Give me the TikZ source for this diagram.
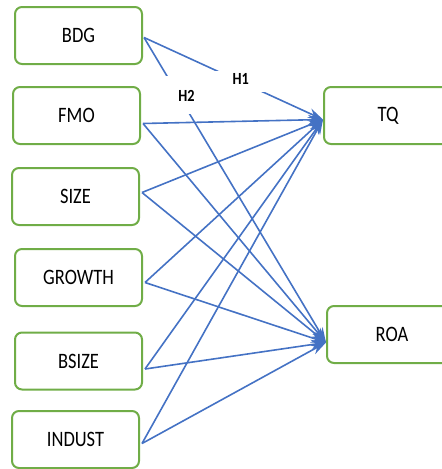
\documentclass[tikz,border=0pt]{standalone}
\usepackage{fontspec}
\setmainfont{Carlito}
\newfontfamily\boxfont[FakeStretch=0.84]{Carlito}
\usetikzlibrary{arrows.meta}
\definecolor{boxgreen}{RGB}{112,173,71}
\definecolor{linkblue}{RGB}{68,114,196}
\tikzset{
  varbox/.style={draw=boxgreen, line width=2pt, rounded corners=7pt, fill=white,
    minimum width=127pt, minimum height=57pt, font=\boxfont\fontsize{22}{26}\selectfont},
  link/.style={draw=linkblue, line width=1.6pt, -{Stealth[length=15pt,width=10pt]}},
  hyp/.style={fill=white, inner sep=2pt, font=\boxfont\bfseries\fontsize{17}{19}\selectfont}
}
\begin{document}
\begin{tikzpicture}[x=1pt,y=-1pt]
\clip (0,0) rectangle (442,469);

% predictors
\node[varbox] (bdg) at (78.5,35.5) {BDG};
\node[varbox] (fmo) at (76.5,115.5) {FMO};
\node[varbox] (size) at (75.5,196.5) {SIZE};
\node[varbox] (growth) at (78.5,277.5) {GROWTH};
\node[varbox] (bsize) at (78.5,361) {BSIZE};
\node[varbox] (indust) at (75.5,439.5) {INDUST};

% outcomes
\node[varbox, minimum width=128pt] (tq) at (388,115.5) {TQ};
\node[varbox, minimum width=130pt] (roa) at (392,334.5) {ROA};

% hypotheses
\draw[link] ([xshift=1pt,yshift=-2pt]bdg.east) -- node[hyp, pos=0.54, minimum width=54pt] {\raisebox{6pt}{H1}} ([yshift=-4pt]tq.west);
\draw[link] ([xshift=1pt,yshift=-2pt]bdg.east) -- node[hyp, pos=0.19, minimum height=38pt] {\hspace{16pt}H2} ([yshift=-8pt]roa.west);

% controls
\foreach \src/\dy in {fmo/-8, size/4, growth/-5, bsize/-8, indust/-4} {
  \draw[link] ([xshift=2pt,yshift=\dy pt]\src.east) -- ([yshift=-4pt]tq.west);
  \draw[link] ([xshift=2pt,yshift=\dy pt]\src.east) -- ([yshift=-8pt]roa.west);
}
\end{tikzpicture}
\end{document}
